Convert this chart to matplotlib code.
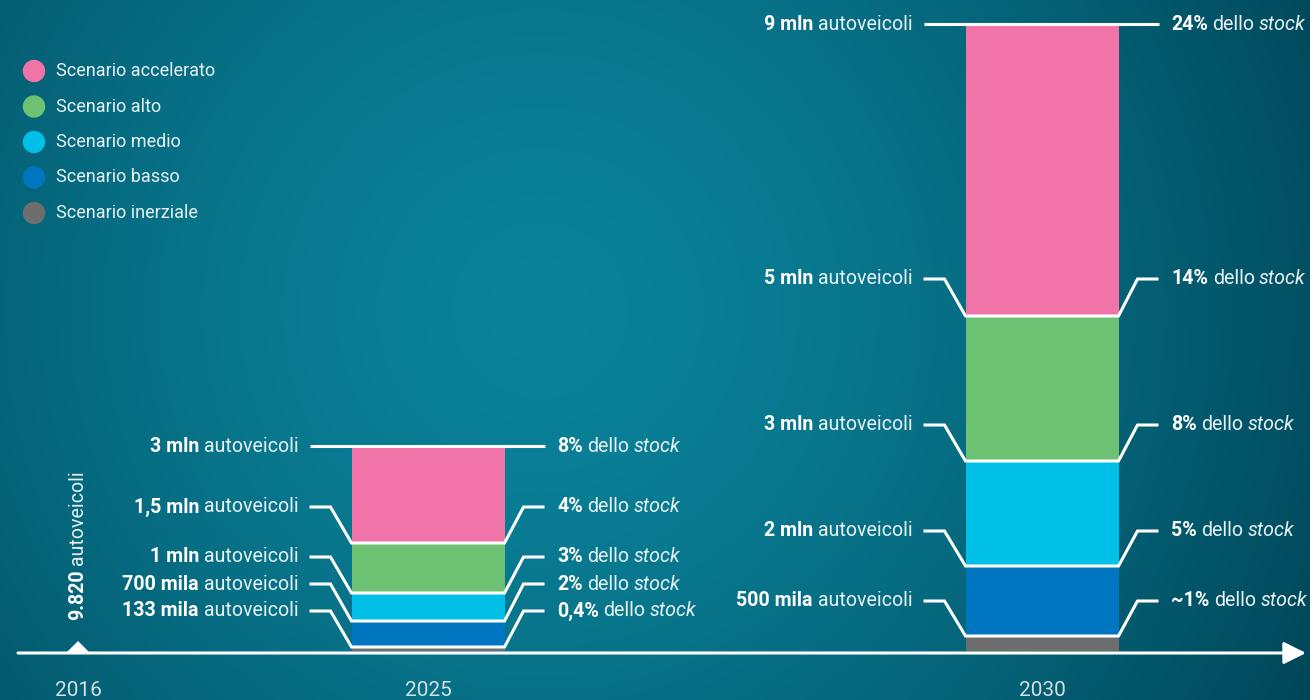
import matplotlib
matplotlib.use('Agg')
import matplotlib.pyplot as plt
import numpy as np
from matplotlib.offsetbox import TextArea, HPacker, AnnotationBbox

plt.rcParams['font.family'] = ['Roboto', 'DejaVu Sans']

# legend / scenarios (top-down as in the legend)
scenarios = ['Scenario accelerato', 'Scenario alto', 'Scenario medio',
             'Scenario basso', 'Scenario inerziale']
colors = ['#f074a7', '#6dc173', '#00c0e8', '#0075c0', '#6e6e6e']

years = ['2016', '2025', '2030']
base_2016 = '9.820'

# drawn tops of the stacked segments, top-down (accelerato ... inerziale)
tops_2025 = [205, 108, 58, 30, 4]
tops_2030 = [627, 335, 190, 85, 15]

veh_2025 = ['3 mln', '1,5 mln', '1 mln', '700 mila', '133 mila']
share_2025 = ['8%', '4%', '3%', '2%', '0,4%']
veh_2030 = ['9 mln', '5 mln', '3 mln', '2 mln', '500 mila']
share_2030 = ['24%', '14%', '8%', '5%', '~1%']

# heights where the labels sit (spread out so they don't overlap)
lab_y_2025 = [205, 144, 94, 67, 40]
lab_y_2030 = [627, 372, 226, 120, 50]

x_pos = [78, 428, 1042]
bar_w = 153

fig = plt.figure(figsize=(13.1, 7), dpi=100)
ax = fig.add_axes([0, 0, 1, 1])
ax.set_xlim(0, 1310)
ax.set_ylim(-49, 651)
ax.axis('off')

# radial teal background
gx, gy = np.meshgrid(np.linspace(0, 1310, 655), np.linspace(651, -49, 350))
d = np.sqrt((gx - 540) ** 2 + ((651 - gy) - 310) ** 2)
t = np.clip(d / 880, 0, 1) ** 1.5
c0 = np.array([10, 131, 155]) / 255
c1 = np.array([0, 68, 86]) / 255
img = c0[None, None, :] * (1 - t[..., None]) + c1[None, None, :] * t[..., None]
ax.imshow(img, extent=[0, 1310, -49, 651], aspect='auto', zorder=0)

white = 'white'
txt_col = '#e6f2f3'
FS = 14.1

def draw_bar(xc, tops, veh, share, lab_y):
    xl, xr = xc - bar_w / 2, xc + bar_w / 2
    tops_up = tops[::-1]
    cols_up = colors[::-1]
    bottom = 0
    for top, col in zip(tops_up, cols_up):
        ax.bar(xc, top - bottom, bottom=bottom, width=bar_w, color=col,
               edgecolor='none', zorder=2)
        bottom = top
    for top, ly, v, s in zip(tops, lab_y, veh, share):
        ax.plot([xl - 42, xl - 21, xl, xr, xr + 19, xr + 40],
                [ly, ly, top, top, ly, ly], color=white, lw=2.2,
                solid_joinstyle='miter', solid_capstyle='butt', zorder=3)
        left = HPacker(children=[
            TextArea(v, textprops=dict(color=white, fontsize=FS, fontweight='bold')),
            TextArea('autoveicoli', textprops=dict(color=txt_col, fontsize=FS))],
            align='baseline', pad=0, sep=3.5)
        ax.add_artist(AnnotationBbox(left, (xl - 53, ly), box_alignment=(1, 0.5),
                                     frameon=False, pad=0, zorder=4))
        right = HPacker(children=[
            TextArea(s, textprops=dict(color=white, fontsize=FS, fontweight='bold')),
            TextArea('dello', textprops=dict(color=txt_col, fontsize=FS)),
            TextArea('stock', textprops=dict(color=txt_col, fontsize=FS,
                                             style='italic'))],
            align='baseline', pad=0, sep=3)
        ax.add_artist(AnnotationBbox(right, (xr + 53, ly), box_alignment=(0, 0.5),
                                     frameon=False, pad=0, zorder=4))

draw_bar(x_pos[1], tops_2025, veh_2025, share_2025, lab_y_2025)
draw_bar(x_pos[2], tops_2030, veh_2030, share_2030, lab_y_2030)

# time axis with arrow
ax.annotate('', xy=(1306, -2), xytext=(18, -2),
            arrowprops=dict(arrowstyle='-|>,head_length=0.9,head_width=0.45',
                            color=white, lw=2.2, mutation_scale=15,
                            shrinkA=0, shrinkB=0), zorder=5)
# small marker for the 2016 starting point
ax.fill([x_pos[0] - 12, x_pos[0] + 12, x_pos[0]], [-2, -2, 10],
        color=white, lw=0, zorder=6)

for x, yr in zip(x_pos, years):
    ax.text(x, -39, yr, ha='center', va='center', color='#d3e1e4',
            fontsize=15)

# vertical 2016 label
renderer = fig.canvas.get_renderer()
t1 = ax.text(x_pos[0], 31, base_2016, rotation=90, ha='center', va='bottom',
             color=white, fontsize=FS, fontweight='bold')
h = t1.get_window_extent(renderer).height
ax.text(x_pos[0], 31 + h + 4, 'autoveicoli', rotation=90, ha='center',
        va='bottom', color=txt_col, fontsize=FS)

# legend
for i, (lab, col) in enumerate(zip(scenarios, colors)):
    ly = 580 - i * 35.5
    ax.scatter([34], [ly], s=260, color=col, edgecolors='none', zorder=4)
    ax.text(56, ly, lab, ha='left', va='center', color=txt_col, fontsize=13)

fig.savefig('out.png', dpi=100)
